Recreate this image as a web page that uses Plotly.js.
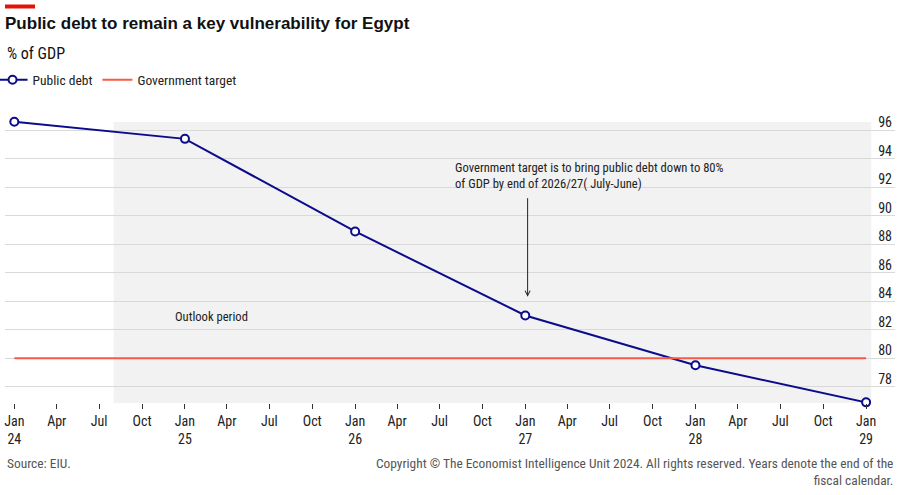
<!DOCTYPE html>
<html>
<head>
<meta charset="utf-8">
<script src="https://cdn.plot.ly/plotly-3.0.1.min.js"></script>
<style>html,body{margin:0;padding:0;background:#fff;}#chart{width:899px;height:495px;}</style>
</head>
<body>
<div id="chart"></div>
<script>
// ---- data ----
const debtDates = ['2024-01-01','2025-01-01','2026-01-01','2027-01-01','2028-01-01','2029-01-01'];
const publicDebt = [96.6, 95.4, 88.9, 83.0, 79.5, 76.9];
const targetDates = ['2024-01-01','2029-01-01'];
const targetValues = [80, 80];
const tickDates = ['2024-01-01','2024-04-01','2024-07-01','2024-10-01',
                   '2025-01-01','2025-04-01','2025-07-01','2025-10-01',
                   '2026-01-01','2026-04-01','2026-07-01','2026-10-01',
                   '2027-01-01','2027-04-01','2027-07-01','2027-10-01',
                   '2028-01-01','2028-04-01','2028-07-01','2028-10-01',
                   '2029-01-01'];
const tickLabels = ['Jan<br>24','Apr','Jul','Oct',
                    'Jan<br>25','Apr','Jul','Oct',
                    'Jan<br>26','Apr','Jul','Oct',
                    'Jan<br>27','Apr','Jul','Oct',
                    'Jan<br>28','Apr','Jul','Oct',
                    'Jan<br>29'];
const yTicks = [78, 80, 82, 84, 86, 88, 90, 92, 94, 96];
const outlookStart = '2024-08-01';
const outlookEnd = '2029-01-12';

const FONT = '"Liberation Sans Narrow", "Roboto Condensed", Roboto, sans-serif';
const NAVY = '#0b0b8c';
const RED = '#f85a47';

const traces = [
  {
    x: debtDates, y: publicDebt, name: 'Public debt', type: 'scatter', mode: 'lines+markers',
    line: {color: NAVY, width: 2},
    marker: {symbol: 'circle', size: 8, color: '#ffffff', line: {color: NAVY, width: 2}},
    cliponaxis: false
  },
  {
    x: targetDates, y: targetValues, name: 'Government target', type: 'scatter', mode: 'lines',
    line: {color: RED, width: 2},
    cliponaxis: false
  }
];

const layout = {
  width: 899, height: 495,
  margin: {l: 5, r: 4, t: 105, b: 92, autoexpand: false},
  paper_bgcolor: '#ffffff', plot_bgcolor: '#ffffff',
  font: {family: FONT, size: 13, color: '#222'},
  hovermode: false,
  title: {
    text: '<b>Public debt to remain a key vulnerability for Egypt</b>',
    x: 0.0056, xanchor: 'left', xref: 'container',
    y: 1 - 23/495, yanchor: 'middle', yref: 'container',
    font: {family: '"Liberation Sans", Roboto, sans-serif', size: 17, color: '#111'}
  },
  showlegend: true,
  legend: {
    orientation: 'h', x: -0.014, xanchor: 'left', y: (403 - 80)/298, yanchor: 'middle',
    font: {family: FONT, size: 13.5, color: '#222'}, bgcolor: 'rgba(0,0,0,0)',
    itemwidth: 30, tracegroupgap: 0
  },
  xaxis: {
    type: 'date', range: ['2023-12-12', '2029-03-04'],
    tickmode: 'array', tickvals: tickDates, ticktext: tickLabels,
    ticks: 'outside', ticklen: 5, tickwidth: 1, tickcolor: '#333',
    showgrid: false, zeroline: false, showline: false,
    tickfont: {family: FONT, size: 14, color: '#222'}
  },
  yaxis: {
    side: 'right', range: [76.855, 97.777],
    tickmode: 'array', tickvals: yTicks,
    ticklabelposition: 'inside', ticklabelshift: -8,
    showgrid: true, gridcolor: '#d9d9d9', gridwidth: 1,
    zeroline: false, showline: false, ticks: '',
    tickfont: {family: FONT, size: 14, color: '#222'}
  },
  shapes: [
    {type: 'rect', xref: 'x', yref: 'y', x0: outlookStart, x1: outlookEnd, y0: 76.855, y1: 96.58,
     fillcolor: '#f2f2f2', line: {width: 0}, layer: 'below'},
    {type: 'rect', xref: 'paper', yref: 'paper', x0: 0, x1: 30/890,
     y0: (403 - 8.5)/298, y1: (403 - 4.5)/298, fillcolor: '#e3120b', line: {width: 0}}
  ],
  annotations: [
    {text: '% of GDP', xref: 'paper', yref: 'paper', x: 0, xanchor: 'left',
     y: (403 - 53)/298, yanchor: 'middle', showarrow: false,
     font: {family: FONT, size: 16, color: '#111'}},
    {text: 'Outlook period', xref: 'x', yref: 'y', x: '2024-12-06', xanchor: 'left',
     y: 82.9, yanchor: 'middle', showarrow: false, font: {family: FONT, size: 12.6, color: '#222'}},
    {text: 'Government target is to bring public debt down to 80%<br>of GDP by end of 2026/27( July-June)',
     xref: 'x', yref: 'y', x: '2026-07-29', xanchor: 'left', y: 92.83, yanchor: 'middle',
     align: 'left', showarrow: false, font: {family: FONT, size: 12.6, color: '#222'}},
    {text: '', xref: 'x', yref: 'y', x: '2027-01-06', y: 84.31,
     axref: 'x', ayref: 'y', ax: '2027-01-06', ay: 91.34,
     showarrow: true, arrowhead: 5, arrowsize: 1, arrowwidth: 1, arrowcolor: '#222', standoff: 0},
    {text: 'Source: EIU.', xref: 'paper', yref: 'paper', x: 0, xanchor: 'left',
     y: (403 - 463)/298, yanchor: 'middle', showarrow: false,
     font: {family: FONT, size: 13.4, color: '#555'}},
    {text: 'Copyright © The Economist Intelligence Unit 2024. All rights reserved. Years denote the end of the<br>fiscal calendar.',
     xref: 'paper', yref: 'paper', x: 1, xanchor: 'right', align: 'right',
     y: (403 - 471.5)/298, yanchor: 'middle', showarrow: false,
     font: {family: FONT, size: 13.4, color: '#555'}}
  ]
};

Plotly.newPlot('chart', traces, layout, {displayModeBar: false, staticPlot: true});
</script>
</body>
</html>
